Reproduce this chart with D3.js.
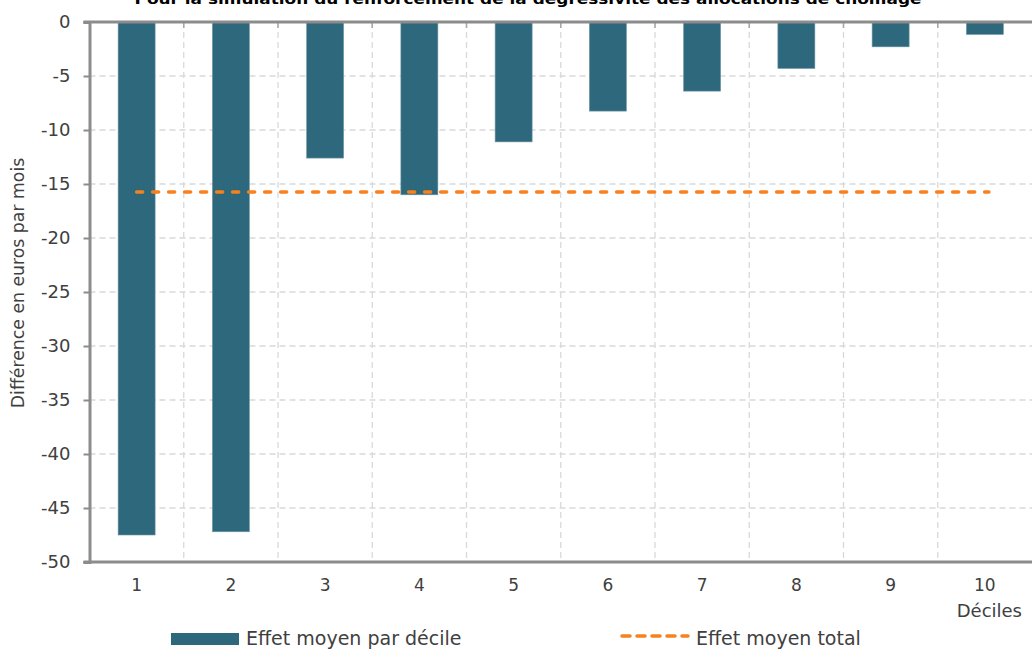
<!DOCTYPE html>
<html><head><meta charset="utf-8">
<script src="https://cdn.jsdelivr.net/npm/d3@7"></script>
<style>body{margin:0;background:#fff}svg{display:block}text{font-family:"DejaVu Sans",sans-serif}</style>
</head><body>
<svg id="c" width="1032" height="649"></svg>
<script>
const categories = ["1","2","3","4","5","6","7","8","9","10"];
const values = [-47.5, -47.2, -12.6, -16.0, -11.1, -8.25, -6.4, -4.3, -2.3, -1.15];
const meanTotal = -15.75;
const yTicks = [0,-5,-10,-15,-20,-25,-30,-35,-40,-45,-50];
const title = "Pour la simulation du renforcement de la dégressivité des allocations de chômage";
const yLabel = "Différence en euros par mois";
const xLabel = "Déciles";
const legendLabels = ["Effet moyen par décile","Effet moyen total"];

const svg = d3.select("#c");
const L=89.5, R=1032, T=22, B=562;
const xb = d3.scaleBand().domain(categories).range([L,R]).padding(0);
const step = xb.step();
const y = d3.scaleLinear().domain([0,-50]).range([T,B]);
const barColor="#2e687c", lineColor="#f5821f", gridColor="#d9d9d9", axisColor="#8c8c8c", textColor="#404040";

// horizontal grid
svg.append("g").selectAll("line").data(yTicks.filter(d=>d!==0&&d!==-50)).join("line")
 .attr("x1",L).attr("x2",R).attr("y1",d=>y(d)).attr("y2",d=>y(d))
 .attr("stroke",gridColor).attr("stroke-width",1.3).attr("stroke-dasharray","6,4");
// vertical grid at band boundaries
svg.append("g").selectAll("line").data(categories.slice(1)).join("line")
 .attr("x1",d=>xb(d)).attr("x2",d=>xb(d)).attr("y1",T).attr("y2",B)
 .attr("stroke",gridColor).attr("stroke-width",1.3).attr("stroke-dasharray","6,4");
// top tick stubs
svg.append("g").selectAll("line").data(categories.slice(1)).join("line")
 .attr("x1",d=>xb(d)).attr("x2",d=>xb(d)).attr("y1",T).attr("y2",T+6)
 .attr("stroke","#a6a6a6").attr("stroke-width",1.5);

// bars
svg.append("g").selectAll("rect").data(values).join("rect")
 .attr("x",(d,i)=>xb(categories[i])+ (step-37)/2).attr("width",37)
 .attr("y",y(0)).attr("height",d=>y(d)-y(0))
 .attr("fill",barColor).attr("stroke","#6d96a5").attr("stroke-width",0.6);

// axes
const yAxis = d3.axisLeft(y).tickValues(yTicks).tickSize(6).tickPadding(13).tickFormat(d=>String(d));
const gy = svg.append("g").attr("transform",`translate(${L},0)`).call(yAxis);
gy.select(".domain").attr("stroke",axisColor).attr("stroke-width",3);
gy.selectAll(".tick line").attr("stroke",axisColor).attr("stroke-width",2);
gy.selectAll(".tick text").attr("fill",textColor).attr("font-size",18).style("font-family","DejaVu Sans");
// zero line and bottom line
svg.append("line").attr("x1",L-6).attr("x2",R).attr("y1",y(0)).attr("y2",y(0)).attr("stroke",axisColor).attr("stroke-width",3);
svg.append("line").attr("x1",L-6).attr("x2",R).attr("y1",y(-50)).attr("y2",y(-50)).attr("stroke",axisColor).attr("stroke-width",3);
gy.select(".domain").raise();

// x labels
svg.append("g").selectAll("text").data(categories).join("text")
 .attr("x",d=>xb(d)+step/2).attr("y",591).attr("text-anchor","middle")
 .attr("fill",textColor).attr("font-size",17).text(d=>d);
svg.append("text").attr("x",1022).attr("y",617).attr("text-anchor","end").attr("fill",textColor).attr("font-size",18).text(xLabel);

// mean line
svg.append("line").attr("x1",xb("1")+step/2).attr("x2",xb("10")+step/2+4)
 .attr("y1",y(meanTotal)).attr("y2",y(meanTotal))
 .attr("stroke",lineColor).attr("stroke-width",3.5).attr("stroke-dasharray","6,10").attr("stroke-linecap","round");

// y label
svg.append("text").attr("transform","translate(24,283) rotate(-90)").attr("text-anchor","middle")
 .attr("fill",textColor).attr("font-size",17.3).text(yLabel);

// title
svg.append("text").attr("x",528).attr("y",4).attr("text-anchor","middle").attr("font-weight","bold")
 .attr("font-size",14).attr("fill","#000").attr("textLength",787).attr("lengthAdjust","spacingAndGlyphs").text(title);

// legend
svg.append("rect").attr("x",171).attr("y",633).attr("width",68).attr("height",12).attr("fill",barColor);
svg.append("text").attr("x",246).attr("y",645).attr("fill",textColor).attr("font-size",19).text(legendLabels[0]);
svg.append("line").attr("x1",622).attr("x2",688).attr("y1",636).attr("y2",636)
 .attr("stroke",lineColor).attr("stroke-width",3.5).attr("stroke-dasharray","8,7").attr("stroke-linecap","round");
svg.append("text").attr("x",696).attr("y",645).attr("fill",textColor).attr("font-size",19).text(legendLabels[1]);
</script>
</body></html>
